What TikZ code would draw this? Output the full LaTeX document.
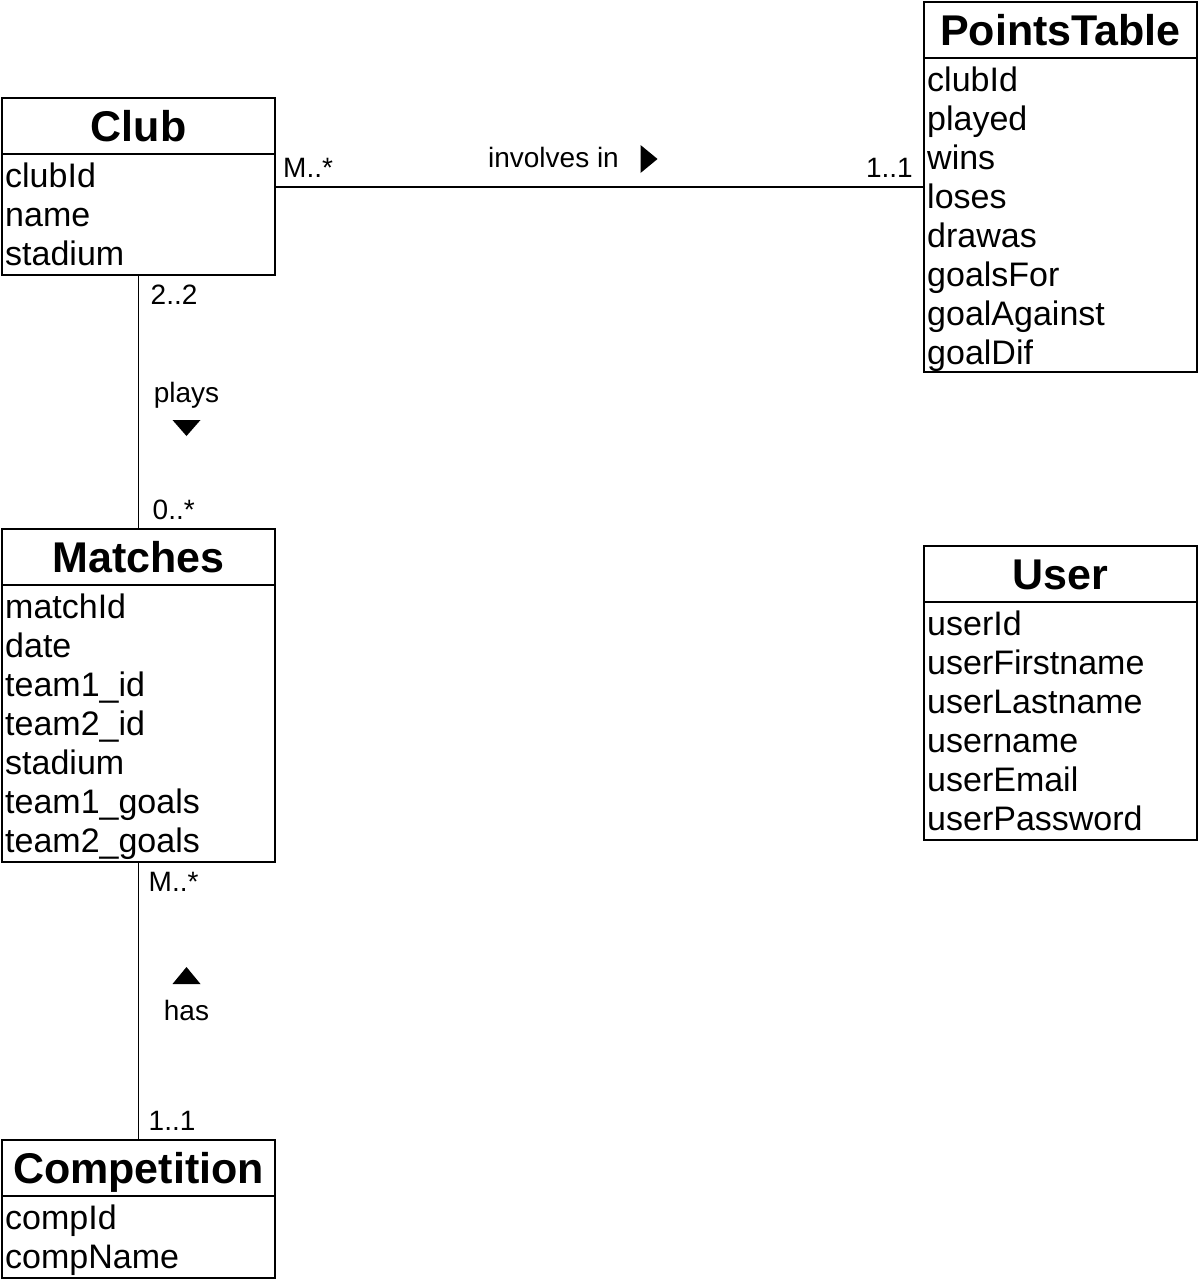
\documentclass[tikz,border=0pt]{standalone}
\usepackage{fontspec}
\setmainfont{Liberation Sans}
\usetikzlibrary{positioning}

\newcommand{\clsfont}{\fontsize{43}{50}\selectfont\bfseries}
\newcommand{\attrfont}{\fontsize{34}{39}\selectfont}
\newcommand{\multfont}{\fontsize{28}{32}\selectfont}

\tikzset{
  classname/.style={draw, line width=2.2pt, minimum width=273pt, minimum height=56pt,
    inner sep=0pt, outer sep=0pt, anchor=north west, text height=30pt, text depth=0pt, font=\clsfont},
  classbody/.style={draw, line width=2.2pt, minimum width=273pt, inner sep=0pt, outer sep=0pt},
  attrib/.style={anchor=base west, inner sep=0pt, font=\attrfont},
  mult/.style={inner sep=0pt, font=\multfont},
  assoc/.style={line width=1.3pt},
}

\begin{document}
\begin{tikzpicture}[x=1pt, y=1pt]
  \useasboundingbox (0,0) rectangle (1200,-1280);
  % classi
  \node[classname] (club) at (2,-98) {Club};
  \node[classbody, minimum height=121pt, below=0pt of club] (clubbody) {};
  \node[classname] (points) at (924,-2) {PointsTable};
  \node[classbody, minimum height=314pt, below=0pt of points] (pointsbody) {};
  \node[classname] (matches) at (2,-529) {Matches};
  \node[classbody, minimum height=277pt, below=0pt of matches] (matchesbody) {};
  \node[classname] (user) at (924,-546) {User};
  \node[classbody, minimum height=238pt, below=0pt of user] (userbody) {};
  \node[classname] (comp) at (2,-1140) {Competition};
  \node[classbody, minimum height=82pt, below=0pt of comp] (compbody) {};
  % attributi
  \foreach \a [count=\i] in {clubId, name, stadium}
    \node[attrib] (clubattr\i) at ([xshift=3pt, yshift={-33pt-39pt*(\i-1)}]clubbody.north west) {\a};
  \foreach \a [count=\i] in {clubId, played, wins, loses, drawas, goalsFor, goalAgainst, goalDif}
    \node[attrib] (pointsattr\i) at ([xshift=3pt, yshift={-33pt-39pt*(\i-1)}]pointsbody.north west) {\a};
  \foreach \a [count=\i] in {matchId, date, team1\_id, team2\_id, stadium, team1\_goals, team2\_goals}
    \node[attrib] (matchesattr\i) at ([xshift=3pt, yshift={-33pt-39pt*(\i-1)}]matchesbody.north west) {\a};
  \foreach \a [count=\i] in {userId, userFirstname, userLastname, username, userEmail, userPassword}
    \node[attrib] (userattr\i) at ([xshift=3pt, yshift={-33pt-39pt*(\i-1)}]userbody.north west) {\a};
  \foreach \a [count=\i] in {compId, compName}
    \node[attrib] (compattr\i) at ([xshift=3pt, yshift={-33pt-39pt*(\i-1)}]compbody.north west) {\a};
  % club - pointstable
  \coordinate (clubright) at ([yshift=-33pt]clubbody.north east);
  \coordinate (pointsleft) at (clubright -| pointsbody.west);
  \draw[assoc] (clubright) -- node[mult, anchor=base, xshift=-46pt, yshift=20pt] (involves) {involves in} (pointsleft);
  \fill ([xshift=21pt, yshift=22pt]involves.base east) -- ++(0,-28) -- ++(17,14) -- cycle;
  \node[mult, anchor=base west] (involvesfrom) at ([xshift=8pt, yshift=10pt]clubright) {M..*};
  \node[mult, anchor=base east] (involvesto) at ([xshift=-11pt, yshift=10pt]pointsleft) {1..1};
  % club - matches
  \draw[assoc] (clubbody.south) -- node[mult, anchor=base, xshift=48pt] (plays) {plays} (matches.north);
  \fill ([xshift=-14pt, yshift=-18pt]plays.base) -- ++(28,0) -- ++(-14,-16) -- cycle;
  \node[mult, anchor=base west] (playsfrom) at ([xshift=12pt, yshift=-29pt]clubbody.south) {2..2};
  \node[mult, anchor=base west] (playsto) at ([xshift=14pt, yshift=10pt]matches.north) {0..*};
  % matches - competition
  \draw[assoc] (matchesbody.south) -- node[mult, anchor=base, xshift=48pt, yshift=-19pt] (has) {has} (comp.north);
  \fill ([xshift=-14pt, yshift=36pt]has.base) -- ++(28,0) -- ++(-14,17) -- cycle;
  \node[mult, anchor=base west] (hasfrom) at ([xshift=10pt, yshift=-29pt]matchesbody.south) {M..*};
  \node[mult, anchor=base west] (hasto) at ([xshift=10pt, yshift=10pt]comp.north) {1..1};
\end{tikzpicture}
\end{document}
